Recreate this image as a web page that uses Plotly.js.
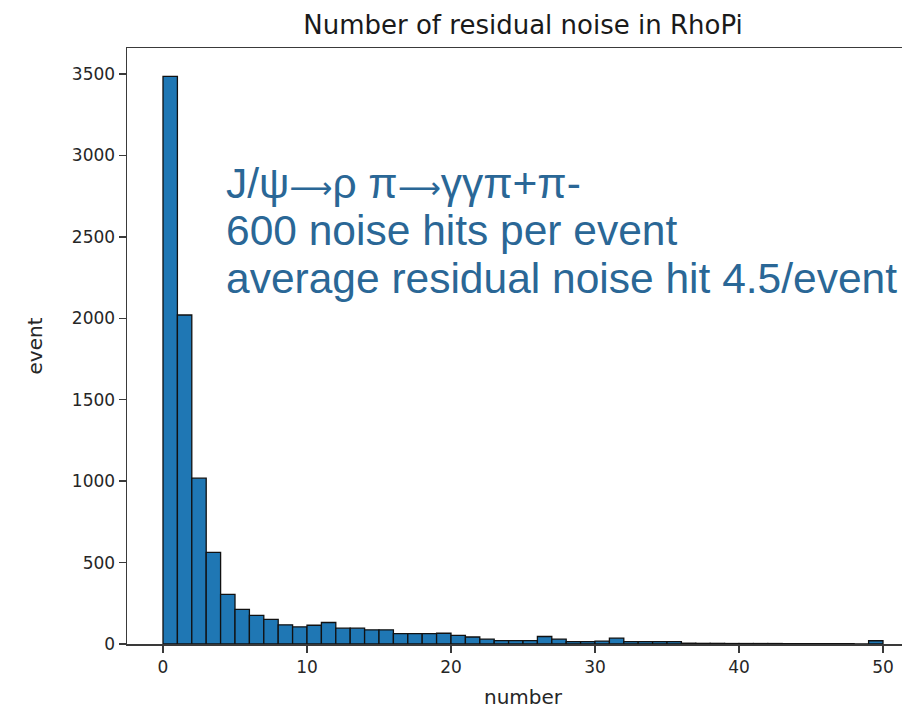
<!DOCTYPE html>
<html>
<head>
<meta charset="utf-8">
<script src="https://cdn.plot.ly/plotly-3.0.1.min.js"></script>
<style>
  html, body { margin: 0; padding: 0; overflow: hidden; background: #fff; }
  #chart { width: 930px; height: 709px; }
</style>
</head>
<body>
<div id="chart"></div>
<script>
// Histogram of residual noise hits per event (unit-width bins, 0..50)
const binStart = [0,1,2,3,4,5,6,7,8,9,10,11,12,13,14,15,16,17,18,19,20,21,22,23,24,
                  25,26,27,28,29,30,31,32,33,34,35,36,37,38,39,40,41,42,43,44,45,46,47,48,49];
const counts = [3485,2020,1018,562,305,213,176,151,118,105,115,132,97,97,87,87,64,64,64,66,
                53,43,30,21,21,21,46,30,15,15,18,36,15,15,15,15,5,4,4,3,3,3,3,2,2,2,2,2,0,20];
const binWidth = 1;

const xTicks = [0,10,20,30,40,50];
const yTicks = [0,500,1000,1500,2000,2500,3000,3500];

const chartTitle = "Number of residual noise in RhoPi";
const xLabel = "number";
const yLabel = "event";
const noteLines = [
  "J/ψ→ρ π→γγπ+π-",
  "600 noise hits per event",
  "average residual noise hit 4.5/event"
];

const centers = binStart.map(b => b + binWidth / 2);
const yMax = Math.max(...counts) * 1.05;

// arrows drawn as the long arrow glyph, sized to stay inside the line box
const styleArrows = s => s.replace(/→/g,
  '<span style="font-family:\'DejaVu Sans\';font-size:30px">⟶</span>');

const tickFont = { family: "DejaVu Sans", size: 17, color: "#262626" };
const axisCommon = {
  showline: true, linecolor: "#3a3a3a", linewidth: 1.5, mirror: true,
  ticks: "outside", ticklen: 7, tickwidth: 1.5, tickcolor: "#3a3a3a",
  showgrid: false, zeroline: false, tickfont: tickFont
};

const trace = {
  type: "bar",
  x: centers,
  y: counts,
  width: binWidth,
  marker: { color: "#1f77b4", line: { color: "#111", width: 1.3 } },
  hoverinfo: "x+y"
};

// Plot area: 792 px wide starting at 127 px, 596 px tall starting at 48 px
const L = 127, T = 48, PW = 792, PH = 596;
const noteX = (225 - L) / PW;
const noteCenters = [183, 230.5, 278];

const layout = {
  width: 930, height: 709,
  margin: { l: L, r: 930 - L - PW, t: T, b: 709 - T - PH },
  paper_bgcolor: "#fff", plot_bgcolor: "#fff",
  bargap: 0,
  showlegend: false,
  title: {
    text: chartTitle,
    font: { family: "DejaVu Sans", size: 26, color: "#1a1a1a" },
    x: (L + PW / 2) / 930, xanchor: "center",
    y: 1 - 25 / 709, yanchor: "middle", yref: "container"
  },
  xaxis: Object.assign({}, axisCommon, {
    range: [-2.5, 52.5],
    tickvals: xTicks,
    ticktext: xTicks.map(String),
    title: { text: xLabel, font: { family: "DejaVu Sans", size: 20, color: "#262626" }, standoff: 18 }
  }),
  yaxis: Object.assign({}, axisCommon, {
    range: [0, yMax],
    tickvals: yTicks,
    ticktext: yTicks.map(String),
    title: { text: yLabel, font: { family: "DejaVu Sans", size: 20, color: "#262626" }, standoff: 24 }
  }),
  annotations: noteLines.map((t, i) => ({
    text: styleArrows(t),
    xref: "paper", yref: "paper",
    x: noteX, xanchor: "left",
    y: (T + PH - noteCenters[i]) / PH, yanchor: "middle",
    showarrow: false,
    borderpad: 0,
    font: { family: "Liberation Sans, Arial, sans-serif", size: 42.5, color: "#2a6796" }
  }))
};

Plotly.newPlot("chart", [trace], layout, { displayModeBar: false, staticPlot: true });
</script>
</body>
</html>
